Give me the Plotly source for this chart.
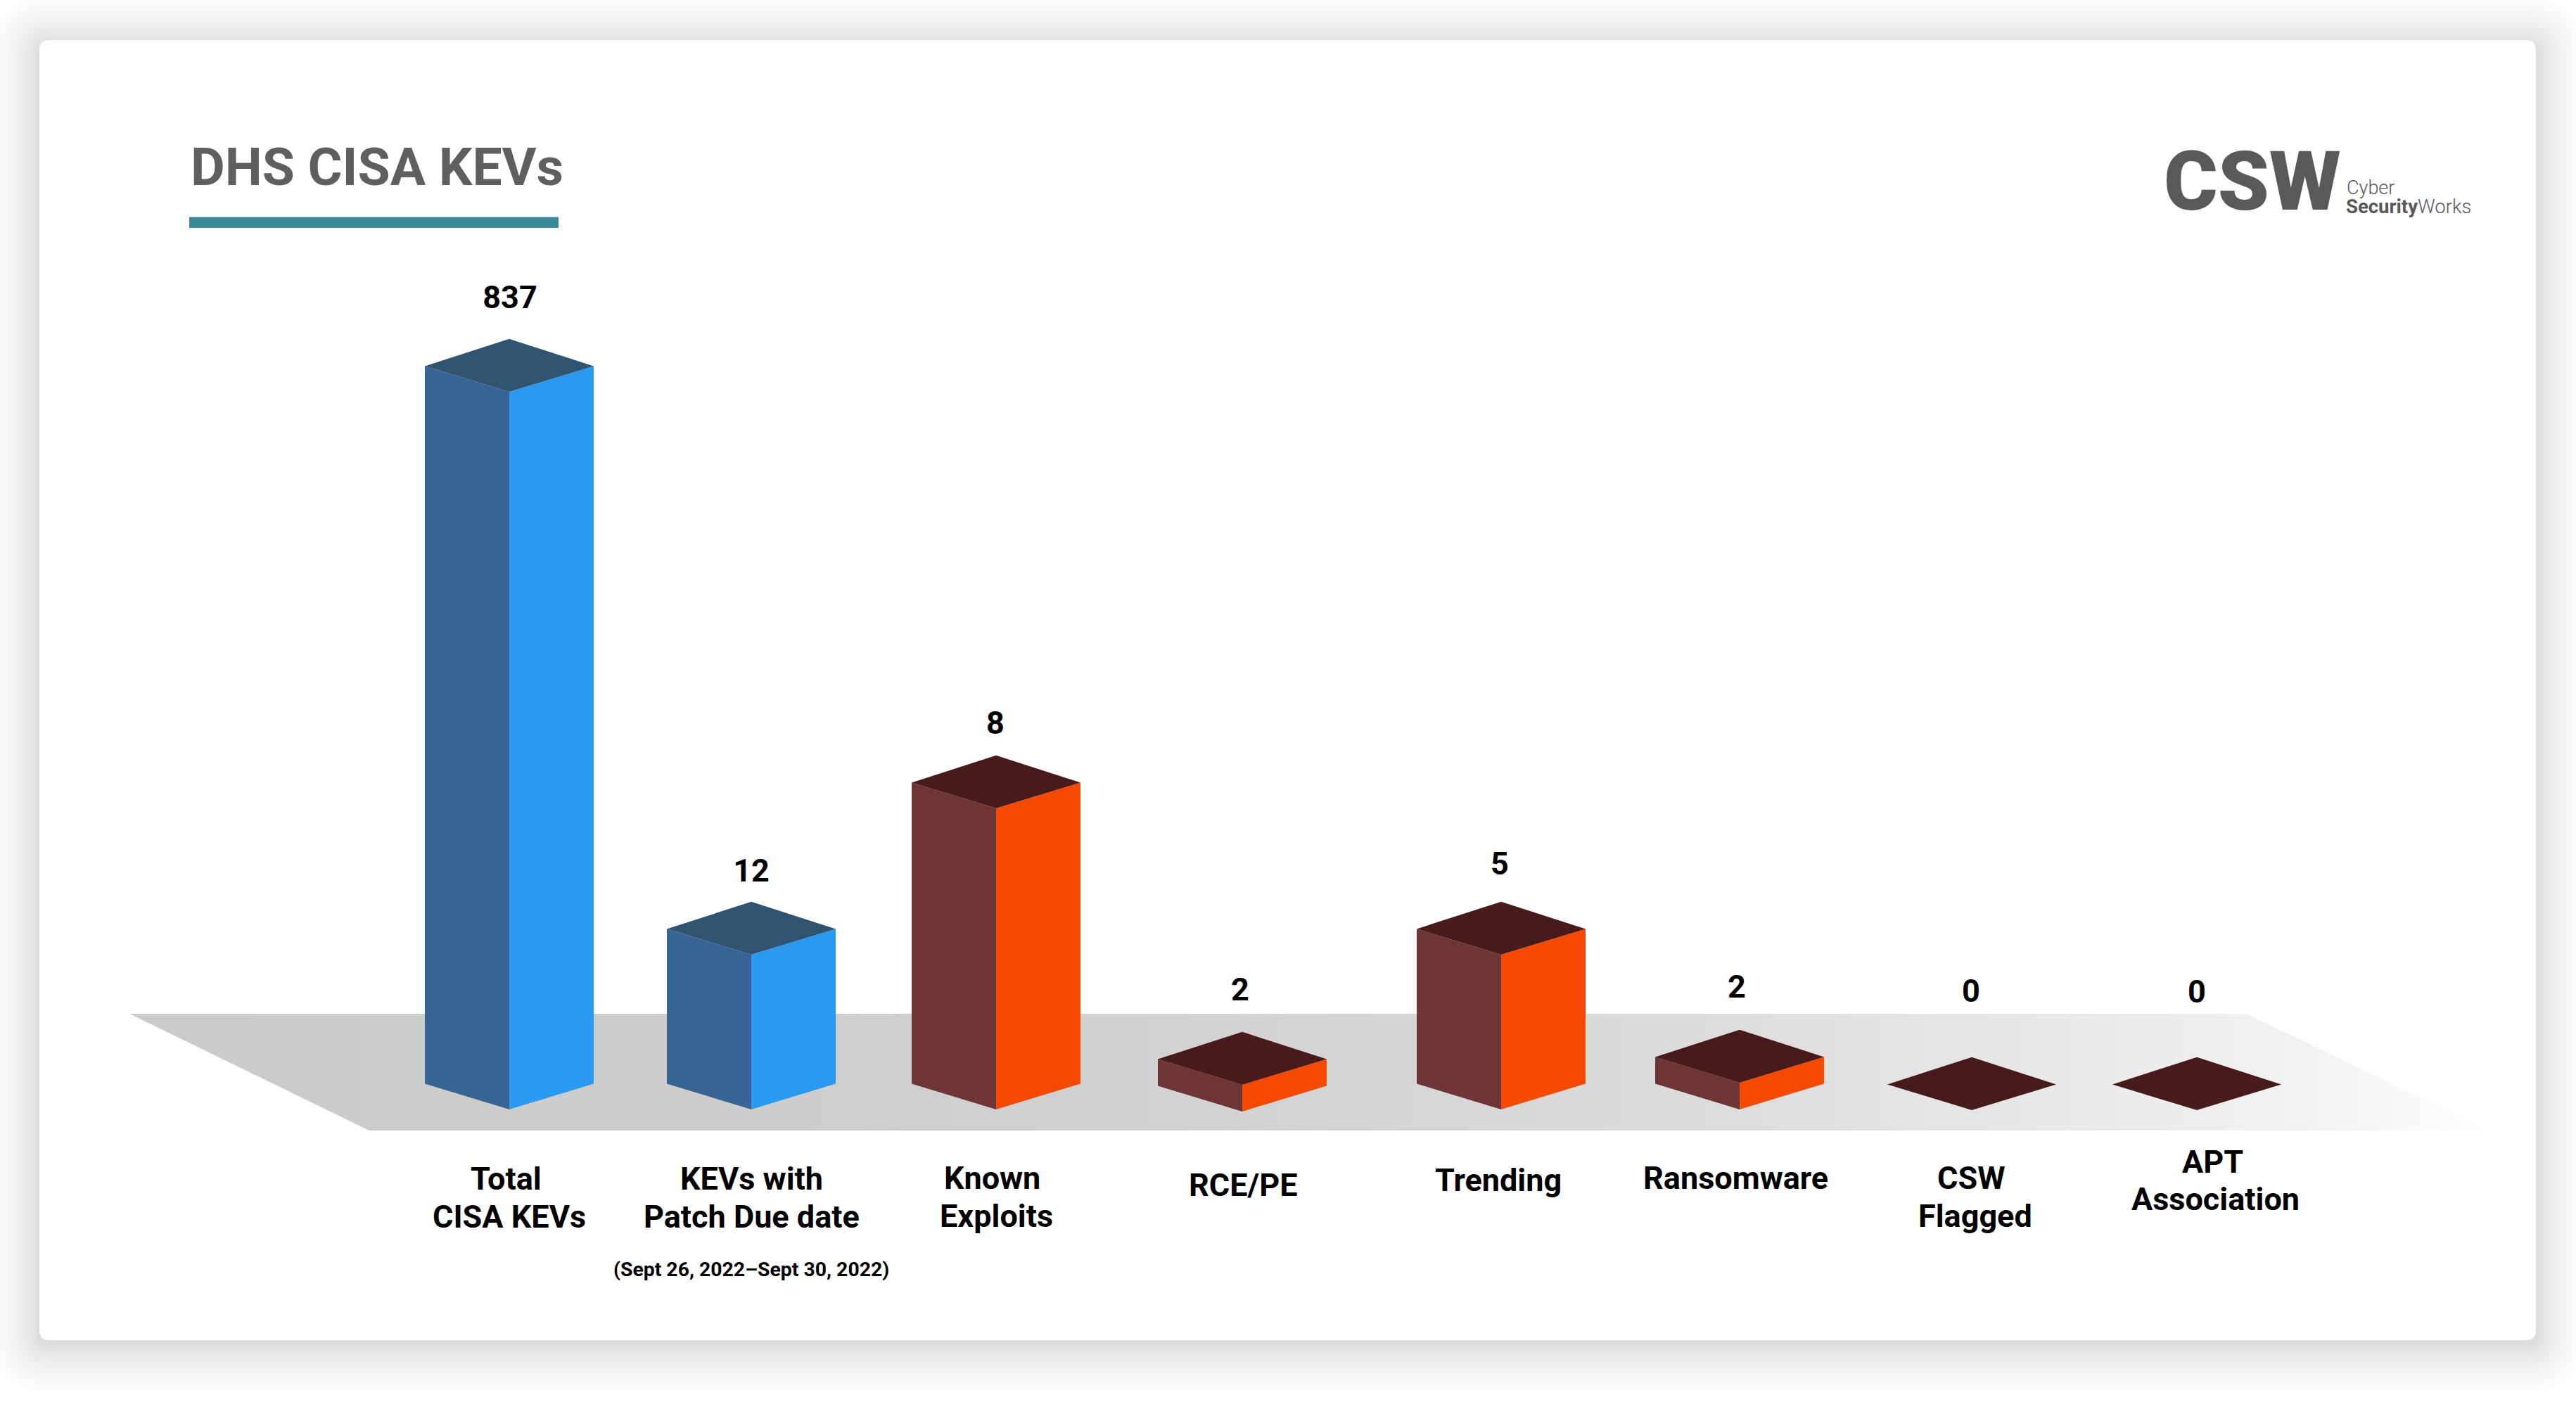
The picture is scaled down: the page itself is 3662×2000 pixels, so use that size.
import plotly.graph_objects as go

# ---- data ----
categories = ["Total<br>CISA KEVs", "KEVs with<br>Patch Due date", "Known<br>Exploits", "RCE/PE",
              "Trending", "Ransomware", "CSW<br>Flagged", "APT<br>Association"]
values = [837, 12, 8, 2, 5, 2, 0, 0]
# drawn column height (the picture's columns are not to one scale), in y-axis units
drawn_heights = [1020, 220, 428, 38, 220, 38, 0, 0]
families = ["blue", "blue", "orange", "orange", "orange", "orange", "orange", "orange"]
title = "DHS CISA KEVs"
date_note = "(Sept 26, 2022–Sept 30, 2022)"

# ---- layout ----
W, H = 3662, 2000
centres = [724, 1068, 1416, 1766, 2134, 2473, 2803, 3123]
bases = [1577, 1577, 1577, 1580, 1577, 1577, 1578, 1578]
HALF_W, FRONT_D, BACK_D = 120, 36.6, 38.6
value_y = [427, 1242, 1032, 1411, 1232, 1407, 1413, 1414]
value_x = [725, 1068, 1415, 1763, 2132, 2469, 2802, 3123]
palette = {
    "blue": dict(left="#366494", right="#2a9af0", top="#30536f"),
    "orange": dict(left="#6f3435", right="#f74a00", top="#471a1c"),
}
label_cfg = [  # per-line (x centre, baseline)
    [(719, 1691.5), (724, 1745.5)], [(1068, 1691.5), (1068, 1745.5)], [(1410, 1690.5), (1416, 1744.5)],
    [(1767, 1700)], [(2130, 1693.5)], [(2467, 1690.5)], [(2802, 1690.5), (2808, 1744.5)],
    [(3145, 1667), (3149, 1720.5)],
]
FS = 45

fig = go.Figure()

def rr(x0, y0, x1, y1, r):
    return (f"M{x0+r},{y0} L{x1-r},{y0} Q{x1},{y0} {x1},{y0+r} L{x1},{y1-r} Q{x1},{y1} {x1-r},{y1} "
            f"L{x0+r},{y1} Q{x0},{y1} {x0},{y1-r} L{x0},{y0+r} Q{x0},{y0} {x0+r},{y0} Z")

shapes = []
N = 34
for i in range(N):
    g = 2 + 66 * (1 - i / N) ** 1.5
    shapes.append(dict(type="path", path=rr(56 - g, 57 - g + 6, 3605 + g, 1905 + g + 6, 14 + g),
                       fillcolor="rgba(0,0,0,0.0028)", line_width=0, layer="below"))
shapes.append(dict(type="path", path=rr(56, 57, 3605, 1905, 14), fillcolor="#ffffff", line_width=0, layer="below"))
shapes.append(dict(type="rect", x0=269, x1=794, y0=308.5, y1=324, fillcolor="#3a8a98", line_width=0, layer="below"))

def poly(xs, ys, color=None, **kw):
    fig.add_trace(go.Scatter(x=xs + xs[:1], y=ys + ys[:1], mode="lines", fill="toself",
                             fillcolor=color, line=dict(width=0), hoverinfo="skip", showlegend=False, **kw))

# floor
poly([184, 3193, 3540, 525], [1441, 1441, 1607, 1607],
     fillgradient=dict(type="horizontal",
                       colorscale=[[0, "#cbcbcb"], [0.28, "#cdcdcd"], [0.5, "#d4d4d4"], [0.68, "#dddddd"],
                                   [0.85, "#ececec"], [0.92, "#f2f2f2"], [1, "#ffffff"]]))

# columns
for cx, base, h, fam in zip(centres, bases, drawn_heights, families):
    c = palette[fam]
    top = base - h
    if h > 0:
        poly([cx - HALF_W, cx, cx, cx - HALF_W], [base - FRONT_D, base, top, top - FRONT_D], c["left"])
        poly([cx, cx + HALF_W, cx + HALF_W, cx], [base, base - FRONT_D, top - FRONT_D, top], c["right"])
    poly([cx - HALF_W, cx, cx + HALF_W, cx],
         [top - FRONT_D, top, top - FRONT_D, top - FRONT_D - BACK_D], c["top"])

# value labels
fig.add_trace(go.Scatter(x=value_x, y=value_y, mode="text", text=[str(v) for v in values],
                         textposition="middle center", hoverinfo="skip", showlegend=False,
                         textfont=dict(family="Roboto", size=FS, weight=700, color="#000000")))

anns = []
def T(x, y, s, size, color="#000000", weight=700, family="Roboto", anchor="center"):
    # y is the baseline
    anns.append(dict(x=x, y=y - 0.355 * size, text=s, showarrow=False, xref="x", yref="y", xanchor=anchor, yanchor="middle",
                     borderpad=0, borderwidth=0, font=dict(family=family, size=size, color=color, weight=weight)))

T(271, 264, title, 75, "#5f5f5f", anchor="left")
for cat, cfg in zip(categories, label_cfg):
    for line, (x, y) in zip(cat.split("<br>"), cfg):
        T(x, y, line, FS)
T(1068, 1815, date_note, 28.4)

# logo wordmark
T(3076, 300, "CSW", 117, "#58595b", weight=900, anchor="left")
T(3336, 277, "Cyber", 27, "#58595b", weight=300, anchor="left")
T(3335, 303, "<b>Security</b>Works", 27.5, "#58595b", weight=300, anchor="left")

fig.update_layout(width=W, height=H, margin=dict(l=0, r=0, t=0, b=0, pad=0), paper_bgcolor="#ffffff",
                  plot_bgcolor="rgba(0,0,0,0)", shapes=shapes, annotations=anns, showlegend=False,
                  xaxis=dict(range=[0, W], visible=False, fixedrange=True),
                  yaxis=dict(range=[H, 0], visible=False, fixedrange=True))
fig.write_html("out.html", config=dict(displayModeBar=False),
               post_script="document.body.style.margin='0';")
